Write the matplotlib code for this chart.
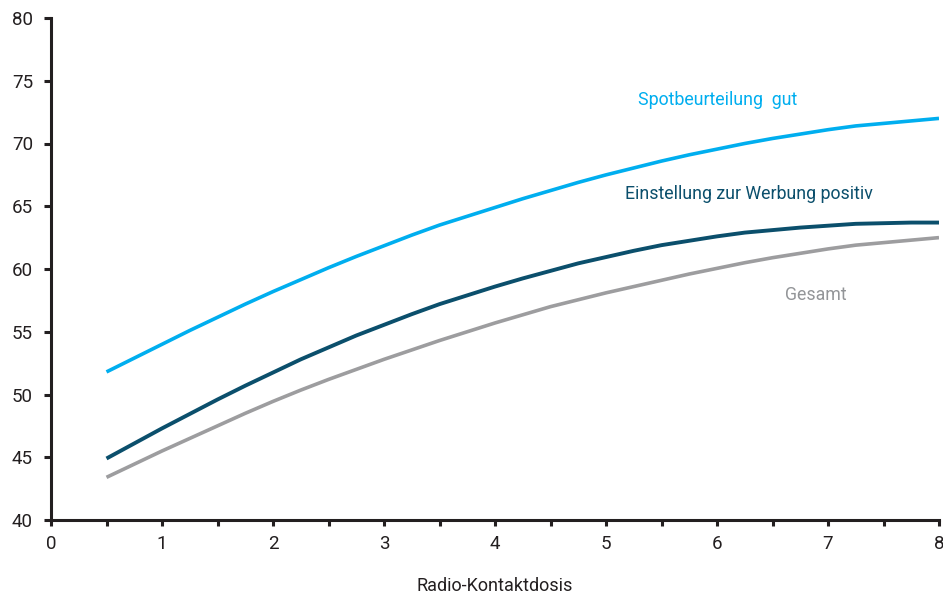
import matplotlib
matplotlib.use("Agg")
import matplotlib.pyplot as plt
from matplotlib.ticker import MultipleLocator

# Kontaktdosis und Wirkung je Gruppe
dosis = [0.5, 0.75, 1.0, 1.25, 1.5, 1.75, 2.0, 2.25, 2.5, 2.75, 3.0, 3.25, 3.5, 3.75, 4.0, 4.25,
         4.5, 4.75, 5.0, 5.25, 5.5, 5.75, 6.0, 6.25, 6.5, 6.75, 7.0, 7.25, 7.5, 7.75, 8.0]
spot_gut = [51.8, 52.9, 54.0, 55.1, 56.15, 57.2, 58.2, 59.15, 60.1, 61.0, 61.85, 62.7, 63.5, 64.2, 64.9, 65.6,
            66.25, 66.9, 67.5, 68.05, 68.6, 69.1, 69.55, 70.0, 70.4, 70.75, 71.1, 71.4, 71.6, 71.8, 72.0]
werbung_positiv = [44.9, 46.1, 47.3, 48.45, 49.6, 50.7, 51.75, 52.8, 53.75, 54.7, 55.55, 56.4, 57.2, 57.9, 58.6, 59.25,
                   59.85, 60.45, 60.95, 61.45, 61.9, 62.25, 62.6, 62.9, 63.1, 63.3, 63.45, 63.6, 63.65, 63.7, 63.7]
gesamt = [43.4, 44.45, 45.5, 46.5, 47.5, 48.5, 49.45, 50.35, 51.2, 52.0, 52.8, 53.55, 54.3, 55.0, 55.7, 56.35,
          57.0, 57.55, 58.1, 58.6, 59.1, 59.6, 60.05, 60.5, 60.9, 61.25, 61.6, 61.9, 62.1, 62.3, 62.5]

x_ticks = [0, 1, 2, 3, 4, 5, 6, 7, 8]
y_ticks = [40, 45, 50, 55, 60, 65, 70, 75, 80]

HELLBLAU = "#00aeef"
PETROL = "#0b4f6c"
GRAU = "#9d9d9f"
TEXT = "#231f20"

plt.rcParams["font.family"] = ["Roboto", "DejaVu Sans"]

fig = plt.figure(figsize=(9.43, 6.02), dpi=100)
ax = fig.add_axes([51 / 943, 82 / 602, 888 / 943, 502 / 602])

kw = dict(solid_capstyle="butt", solid_joinstyle="round")
ax.plot(dosis, gesamt, color=GRAU, lw=2.6, **kw)
ax.plot(dosis, werbung_positiv, color=PETROL, lw=2.8, **kw)
ax.plot(dosis, spot_gut, color=HELLBLAU, lw=2.6, **kw)

ax.text(5.29, 73.5, "Spotbeurteilung  gut", color=HELLBLAU, fontsize=12.8, va="center", ha="left")
ax.text(5.17, 66.0, "Einstellung zur Werbung positiv", color=PETROL, fontsize=12.8, va="center", ha="left")
ax.text(6.89, 57.9, "Gesamt", color="#939598", fontsize=12.8, va="center", ha="center")

ax.set_xlim(0, 8)
ax.set_ylim(40, 80)
ax.set_xticks(x_ticks)
ax.set_yticks(y_ticks)
ax.xaxis.set_minor_locator(MultipleLocator(0.5))

for side in ("top", "right"):
    ax.spines[side].set_visible(False)
for side in ("left", "bottom"):
    ax.spines[side].set_linewidth(2.2)
    ax.spines[side].set_color(TEXT)
    ax.spines[side].set_capstyle("projecting")

ax.tick_params(axis="y", direction="out", length=5, width=2.2, color=TEXT,
               labelsize=13.5, labelcolor=TEXT, pad=8)
ax.tick_params(axis="x", which="major", direction="out", length=4, width=2.2, color=TEXT,
               labelsize=13.5, labelcolor=TEXT, pad=7)
ax.tick_params(axis="x", which="minor", direction="out", length=4, width=2.2, color=TEXT)

ax.set_xlabel("Radio-Kontaktdosis", fontsize=13, color=TEXT, labelpad=17)

fig.savefig("out.png", dpi=100)
